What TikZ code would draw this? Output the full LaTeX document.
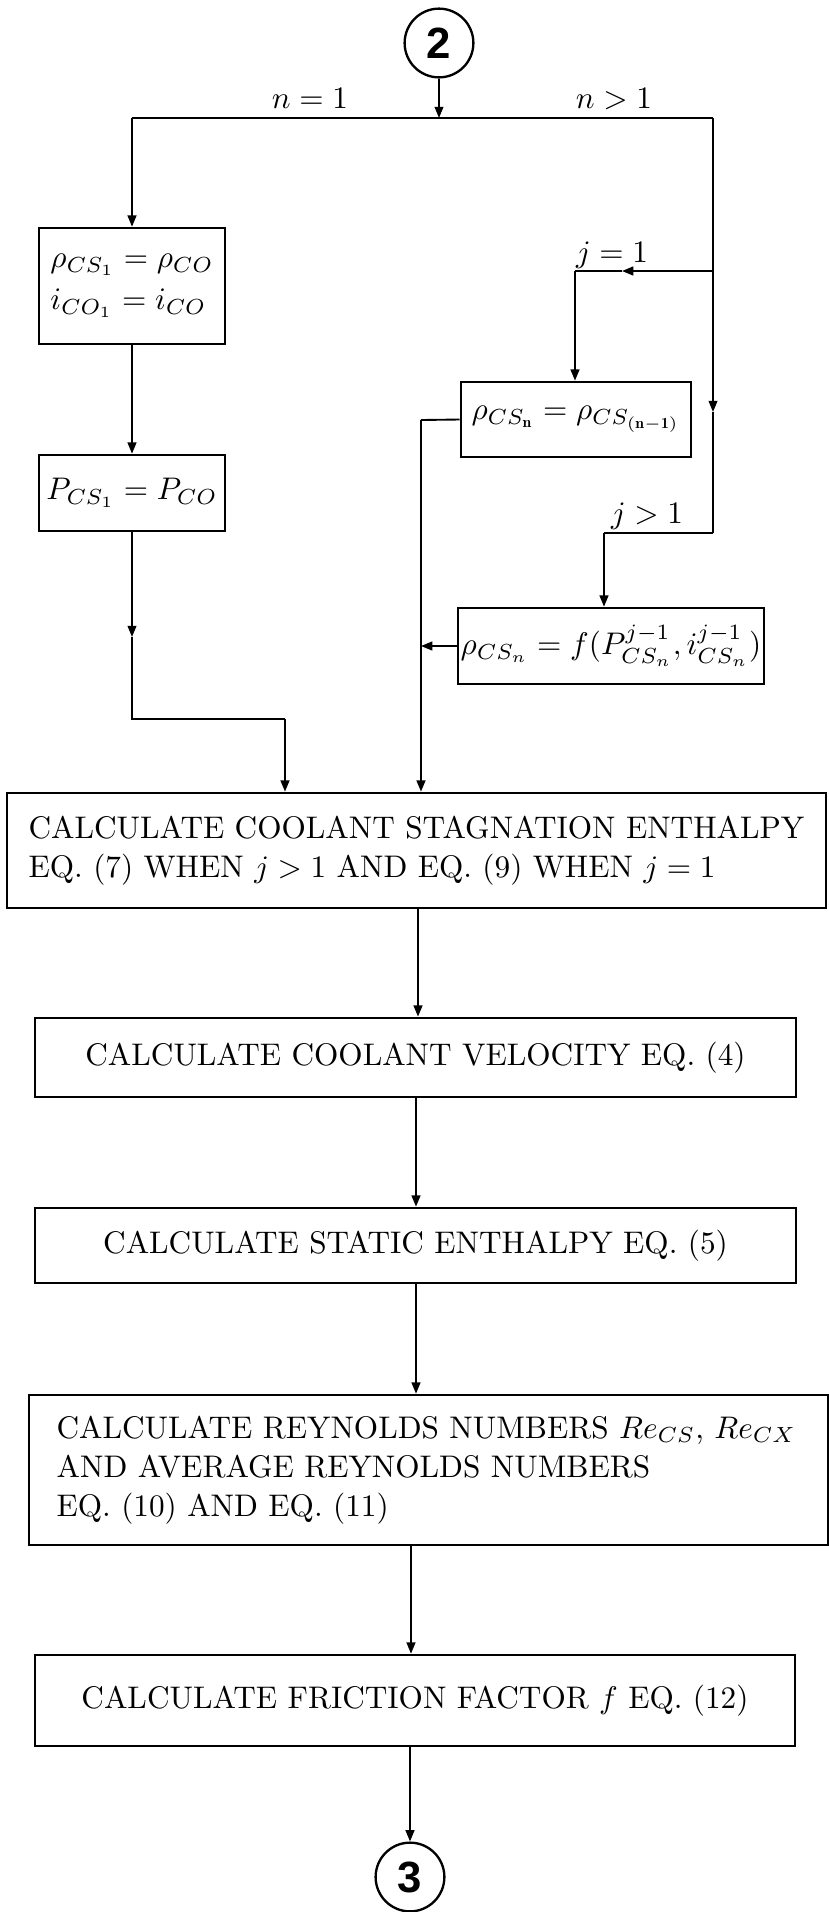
\documentclass[tikz,border=0pt]{standalone}
\usepackage{fontspec}
\newfontfamily\circfont{Liberation Sans}
\usetikzlibrary{arrows.meta}
\begin{document}
\begin{tikzpicture}[x=0.32pt,y=-0.32pt,
  every node/.style={font=\fontsize{10}{12.5}\selectfont},
  ln/.style={line width=0.6pt},
  arr/.style={ln,-{Triangle[length=3.6pt,width=2.8pt]}},
  stepbox/.style={draw,line width=0.85pt,inner sep=0pt,align=left},
  conn/.style={draw,circle,line width=0.75pt,minimum size=22pt,inner sep=0pt,
    font=\circfont\bfseries\fontsize{14}{14}\selectfont},
  lbl/.style={anchor=base,inner sep=0pt}]
\useasboundingbox (0,0) rectangle (829,1912);
\fill[white] (0,0) rectangle (829,1912);

% connectors (circles)
\node[conn] (c2) at (439,43) {2};
\node[conn] (c3) at (410,1877) {3};

% left branch boxes
\node[stepbox,minimum width=59.5pt,minimum height=37.1pt] (b1) at (132,286)
  {$\rho_{CS_1} = \rho_{CO}$\\[1pt] $i_{CO_1} = i_{CO}$};
\node[stepbox,minimum width=59.5pt,minimum height=24.3pt] (b2) at (132,493)
  {$P_{CS_1} = P_{CO}$};

% right branch boxes
\node[stepbox,minimum width=73.6pt,minimum height=24pt] (b3) at (576,419.5)
  {$\rho_{CS_{\mathbf{n}}} = \rho_{CS_{(\mathbf{n-1})}}$};
\node[stepbox,minimum width=97.9pt,minimum height=24.3pt] (b4) at (611,646)
  {$\rho_{CS_n} = f(P^{j-1}_{CS_n}, i^{j-1}_{CS_n})$};

% main column
\node[stepbox,minimum width=262pt,minimum height=36.8pt] (A) at (416.5,850.5)
  {CALCULATE COOLANT STAGNATION ENTHALPY\\ EQ.~(7) WHEN $j>1$ AND EQ.~(9) WHEN $j=1$};
\node[stepbox,minimum width=243.5pt,minimum height=25.3pt] (V) at (415.5,1057.5)
  {CALCULATE COOLANT VELOCITY EQ.~(4)};
\node[stepbox,minimum width=243.5pt,minimum height=24pt] (S) at (415.5,1245.5)
  {CALCULATE STATIC ENTHALPY EQ.~(5)};
\node[stepbox,minimum width=255.7pt,minimum height=48pt,text width=238pt] (R) at (428.5,1470)
  {CALCULATE REYNOLDS NUMBERS $Re_{CS}$, $Re_{CX}$\\ AND AVERAGE REYNOLDS NUMBERS\\ EQ.~(10) AND EQ.~(11)};
\node[stepbox,minimum width=243.2pt,minimum height=29.1pt] (F) at (415,1700.5)
  {CALCULATE FRICTION FACTOR $f$ EQ.~(12)};

% labels
\node[lbl] (ln1) at (310,108) {$n=1$};
\node[lbl] (ln2) at (614,108) {$n>1$};
\node[lbl] (lj1) at (612,262) {$j=1$};
\node[lbl] (lj2) at (647,523) {$j>1$};

% junction coordinates
\coordinate (T) at (439,118);
\coordinate (TL) at (132,118);
\coordinate (TR) at (713,118);
\coordinate (m1) at (132,637);
\coordinate (e1) at (132,719);
\coordinate (e2) at (285,719);
\coordinate (J1) at (713,271);
\coordinate (J2) at (713,533);
\coordinate (m2) at (713,412);
\coordinate (m3) at (622,271);
\coordinate (k1) at (575,271);
\coordinate (k2) at (604,533);
\coordinate (v1) at (421,420);
\coordinate (x1) at (418,0);
\coordinate (x2) at (416,0);
\coordinate (x3) at (416,0);
\coordinate (x4) at (411,0);
\coordinate (x5) at (410,0);

% top split
\draw[arr] (c2.south) -- (T);
\draw[ln] (TL) -- (TR);
\draw[arr] (TL) -- (b1.north);
\draw[arr] (b1.south) -- (b2.north);
\draw[arr] (b2.south) -- (m1);
\draw[ln] (m1) -- (e1) -- (e2);
\draw[arr] (e2) -- (e2 |- A.north);

% right side
\draw[arr] (TR) -- (m2);
\draw[ln] (m2) -- (J2);
\draw[arr] (J1) -- (m3);
\draw[ln] (m3) -- (k1);
\draw[arr] (k1) -- (b3.north -| k1);
\draw[ln] (J2) -- (k2);
\draw[arr] (k2) -- (b4.north -| k2);
\draw[ln] (b3.west) -- (v1);
\draw[arr] (v1) -- (v1 |- A.north);
\draw[arr] (b4.west) -- (b4.west -| v1);

% main column
\draw[arr] (A.south -| x1) -- (V.north -| x1);
\draw[arr] (V.south -| x2) -- (S.north -| x2);
\draw[arr] (S.south -| x3) -- (R.north -| x3);
\draw[arr] (R.south -| x4) -- (F.north -| x4);
\draw[arr] (F.south -| x5) -- (c3.north);
\end{tikzpicture}
\end{document}
